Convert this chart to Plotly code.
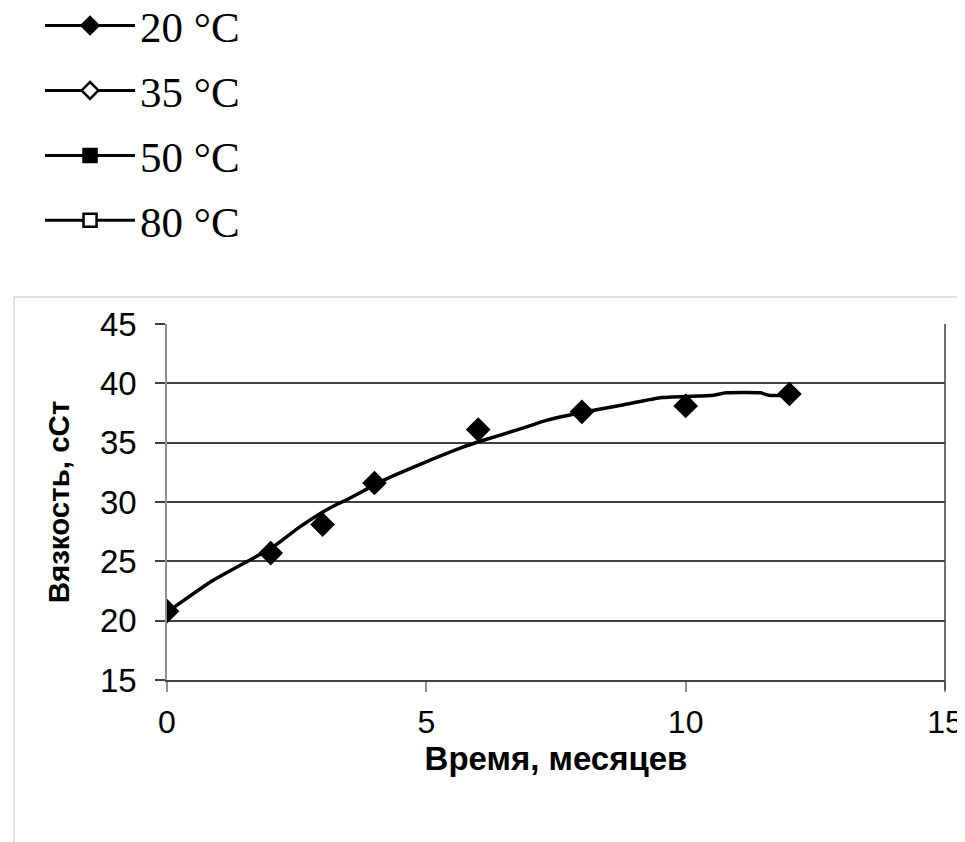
import plotly.graph_objects as go

# ---- data ----
months = [0, 2, 3, 4, 6, 8, 10, 12]
visc_20 = [20.8, 25.7, 28.1, 31.6, 36.1, 37.6, 38.1, 39.1]

trend_t = [0, 0.89, 2.04, 2.56, 3.14, 3.47, 4.21, 4.95, 5.69, 6.10, 6.84, 7.33,
           8.07, 8.81, 9.55, 10.54, 10.78, 11.44, 11.60, 12.0]
trend_v = [20.7, 23.4, 26.2, 27.9, 29.5, 30.2, 31.9, 33.3, 34.6, 35.2, 36.2, 36.9,
           37.6, 38.2, 38.8, 39.0, 39.2, 39.2, 39.0, 39.0]

legend_names = ["20 °C", "35 °C", "50 °C", "80 °C"]
legend_symbols = ["diamond", "diamond", "square", "square"]
legend_fills = ["black", "white", "black", "white"]

x_ticks = [0, 5, 10, 15]
y_ticks = [15, 20, 25, 30, 35, 40, 45]

x_title = "Время, месяцев"
y_title = "Вязкость, сСт"

# ---- figure ----
fig = go.Figure()

fig.add_trace(go.Scatter(
    x=trend_t, y=trend_v, mode="lines",
    line=dict(color="black", width=3.5, shape="spline", smoothing=0.6),
    showlegend=False, hoverinfo="skip"))

fig.add_trace(go.Scatter(
    x=months, y=visc_20, mode="markers", name=legend_names[0],
    marker=dict(symbol="diamond", size=19, color="black"),
    showlegend=False))

for i, (nm, sym, fc) in enumerate(zip(legend_names, legend_symbols, legend_fills)):
    fig.add_trace(go.Scatter(
        x=[None], y=[None], mode="lines+markers", name=nm,
        legendgroup=f"g{i}",
        line=dict(color="black", width=3),
        marker=dict(symbol=sym, size=13, color=fc,
                    line=dict(color="black", width=2.5)),
        showlegend=True))

shapes = [
    # right border of the plot area
    dict(type="line", xref="x domain", yref="y domain", x0=1, x1=1, y0=-0.028, y1=1,
         line=dict(color="#404040", width=1.5)),
    # light outer chart frame
    dict(type="rect", xref="paper", yref="paper",
         x0=-0.1967, x1=1.0244, y0=-0.5, y1=1.0758,
         line=dict(color="#d9d9d9", width=1.5)),
]

fig.update_layout(
    width=965, height=842,
    margin=dict(l=159, r=28, t=316, b=170, autoexpand=False),
    paper_bgcolor="white", plot_bgcolor="white",
    font=dict(family="Liberation Sans, Arial, sans-serif", color="black"),
    showlegend=True,
    legend=dict(
        x=-0.1632, y=1.935, xanchor="left", yanchor="top",
        font=dict(family="Liberation Serif, Times New Roman, serif", size=43, color="black"),
        traceorder="grouped", tracegroupgap=6, itemwidth=90,
        bgcolor="rgba(0,0,0,0)", borderwidth=0),
    xaxis=dict(
        range=[0, 15], tickvals=x_ticks, showgrid=False, zeroline=False,
        showline=True, linecolor="#404040", linewidth=1.5,
        ticks="outside", ticklen=10, tickcolor="#909090", tickwidth=1.5,
        tickfont=dict(size=32), ticklabelstandoff=3,
        title=dict(text=f"<b>{x_title}</b>", font=dict(size=33), standoff=0)),
    yaxis=dict(
        range=[15, 45], tickvals=y_ticks, showgrid=True, gridcolor="#404040",
        gridwidth=1.5, zeroline=False,
        showline=True, linecolor="#909090", linewidth=1.5,
        ticks="outside", ticklen=10, tickcolor="#404040", tickwidth=1.5,
        tickfont=dict(size=33), ticklabelstandoff=12,
        title=dict(text=f"<b>{y_title}</b>", font=dict(size=29.5), standoff=22)),
    shapes=shapes,
)

fig.write_html("out.html")
